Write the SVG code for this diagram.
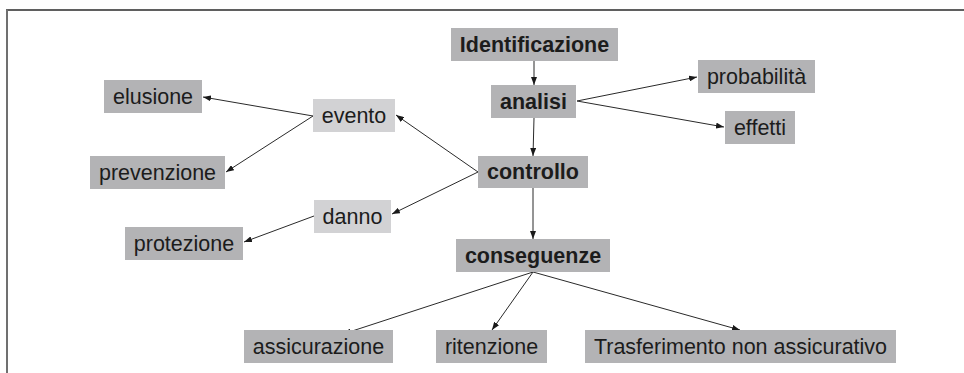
<svg xmlns="http://www.w3.org/2000/svg" width="964" height="373" viewBox="0 0 964 373">
<style>
.d{fill:#b3b3b5}
.l{fill:#d2d2d4}
text{font-family:"Liberation Sans",Arial,sans-serif;font-size:21.5px;fill:#1c1c1c;text-anchor:middle}
.b{font-weight:bold}
.c line{stroke:#2a2a2a;stroke-width:1;marker-end:url(#ah)}
</style>
<defs>
<marker id="ah" viewBox="0 0 8 6" refX="8" refY="3" markerWidth="8" markerHeight="6" markerUnits="userSpaceOnUse" orient="auto">
<path d="M0,0 L8,3 L0,6 Z" fill="#1a1a1a"/>
</marker>
</defs>
<rect width="964" height="373" fill="#fff"/>
<line x1="6" y1="10" x2="964" y2="10" stroke="#2a2a2a" stroke-width="1.6"/>
<line x1="7" y1="9.5" x2="7" y2="373" stroke="#707070" stroke-width="2"/>
<g class="c">
<line x1="534" y1="61" x2="534" y2="85"/>
<line x1="534" y1="118" x2="533" y2="156"/>
<line x1="533" y1="188" x2="533" y2="239"/>
<line x1="577" y1="101" x2="697" y2="77"/>
<line x1="577" y1="101" x2="724" y2="127"/>
<line x1="478" y1="172" x2="396" y2="115"/>
<line x1="478" y1="172" x2="392" y2="214"/>
<line x1="313" y1="116" x2="203" y2="97"/>
<line x1="313" y1="116" x2="226" y2="172"/>
<line x1="314" y1="216" x2="244" y2="242"/>
<line x1="533" y1="272" x2="343" y2="334"/>
<line x1="533" y1="272" x2="492" y2="330"/>
<line x1="533" y1="272" x2="740" y2="330"/>
</g>
<g id="identificazione"><rect class="d" x="451" y="28" width="167" height="33"/><text class="b" x="534.5" y="52">Identificazione</text></g>
<g id="analisi"><rect class="d" x="491" y="85" width="85" height="33"/><text class="b" x="533.5" y="109">analisi</text></g>
<g id="probabilita"><rect class="d" x="698" y="60" width="117" height="33"/><text x="756.5" y="84">probabilità</text></g>
<g id="effetti"><rect class="d" x="725" y="111" width="70" height="33"/><text x="760" y="135">effetti</text></g>
<g id="controllo"><rect class="d" x="478" y="156" width="110" height="32"/><text class="b" x="533" y="179">controllo</text></g>
<g id="evento"><rect class="l" x="313" y="99" width="82" height="33"/><text x="354" y="123">evento</text></g>
<g id="elusione"><rect class="d" x="104" y="80" width="98" height="33"/><text x="153" y="104">elusione</text></g>
<g id="prevenzione"><rect class="d" x="90" y="156" width="135" height="33"/><text x="157.5" y="180">prevenzione</text></g>
<g id="danno"><rect class="l" x="314" y="200" width="77" height="33"/><text x="352.5" y="224">danno</text></g>
<g id="protezione"><rect class="d" x="125" y="227" width="118" height="33"/><text x="184" y="251">protezione</text></g>
<g id="conseguenze"><rect class="d" x="456" y="239" width="154" height="33"/><text class="b" x="533" y="263">conseguenze</text></g>
<g id="assicurazione"><rect class="d" x="244" y="330" width="149" height="33"/><text x="318.5" y="354">assicurazione</text></g>
<g id="ritenzione"><rect class="d" x="436" y="330" width="111" height="33"/><text x="491.5" y="354">ritenzione</text></g>
<g id="trasferimento"><rect class="d" x="585" y="330" width="311" height="33"/><text x="740.5" y="354">Trasferimento non assicurativo</text></g>
</svg>
